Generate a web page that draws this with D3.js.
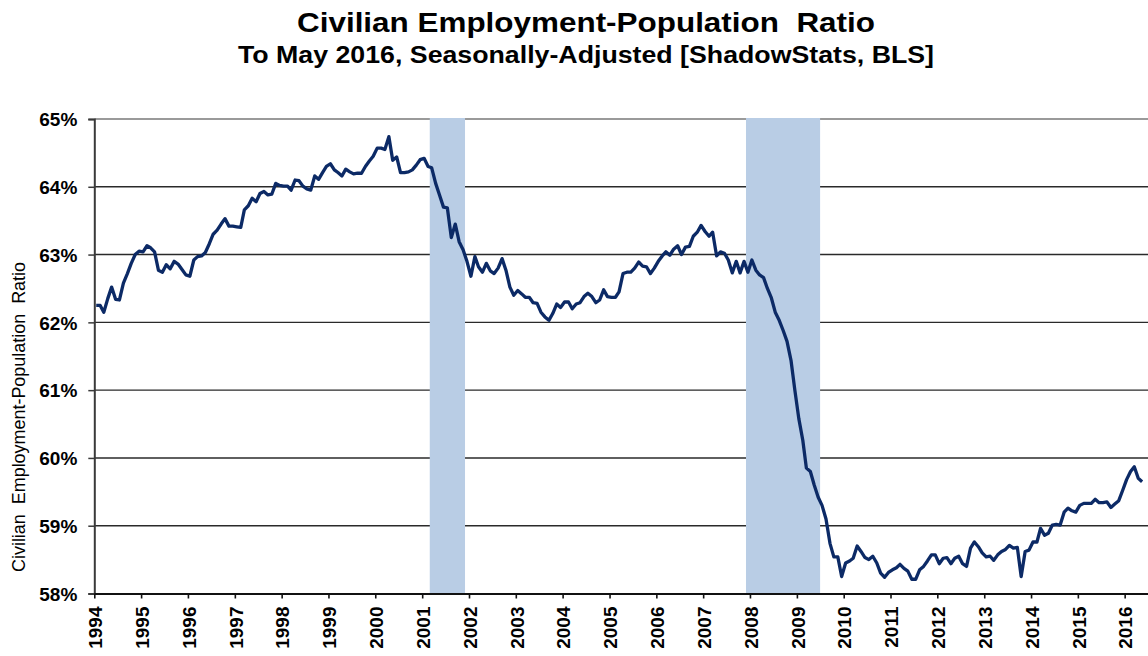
<!DOCTYPE html>
<html lang="en">
    <head>
        <meta charset="utf-8"/>
        <script src="https://d3js.org/d3.v7.min.js"></script>
        <style>
            body { margin: 0; background: #fff; }
            text { font-family: "Liberation Sans", Arial, sans-serif; fill: #000; white-space: pre; }
        </style>
    </head>
    <body>
        <div id="chart"></div>
    </body>
    <script>
        // monthly employment-population ratio (%), Jan 1994 .. May 2016
        var startYear = 1994;
        var ratio = [
            62.25, 62.25, 62.15, 62.35, 62.52, 62.34, 62.33, 62.58, 62.72, 62.87, 63.00, 63.05, // 1994
            63.04, 63.13, 63.10, 63.04, 62.77, 62.74, 62.85, 62.79, 62.90, 62.86, 62.78, 62.70, // 1995
            62.68, 62.92, 62.97, 62.98, 63.03, 63.16, 63.30, 63.36, 63.45, 63.53, 63.42, 63.42, // 1996
            63.41, 63.40, 63.66, 63.72, 63.83, 63.78, 63.90, 63.93, 63.88, 63.89, 64.05, 64.02, // 1997
            64.01, 64.01, 63.95, 64.10, 64.09, 64.01, 63.97, 63.95, 64.16, 64.11, 64.21, 64.30, // 1998
            64.34, 64.25, 64.21, 64.16, 64.26, 64.22, 64.19, 64.20, 64.20, 64.30, 64.38, 64.45, // 1999
            64.57, 64.57, 64.55, 64.74, 64.39, 64.44, 64.21, 64.21, 64.22, 64.25, 64.32, 64.40, // 2000
            64.42, 64.30, 64.28, 64.05, 63.88, 63.70, 63.69, 63.25, 63.45, 63.19, 63.07, 62.90, // 2001
            62.68, 62.97, 62.82, 62.74, 62.87, 62.76, 62.72, 62.80, 62.94, 62.77, 62.52, 62.40, // 2002
            62.47, 62.42, 62.37, 62.37, 62.29, 62.28, 62.15, 62.08, 62.03, 62.13, 62.27, 62.22, // 2003
            62.30, 62.30, 62.20, 62.27, 62.29, 62.38, 62.43, 62.38, 62.29, 62.33, 62.48, 62.38, // 2004
            62.37, 62.37, 62.45, 62.72, 62.74, 62.74, 62.80, 62.89, 62.83, 62.82, 62.72, 62.80, // 2005
            62.90, 62.98, 63.04, 62.99, 63.08, 63.13, 63.00, 63.11, 63.12, 63.27, 63.33, 63.43, // 2006
            63.34, 63.27, 63.33, 62.98, 63.04, 63.02, 62.92, 62.73, 62.90, 62.73, 62.90, 62.74, // 2007
            62.92, 62.77, 62.70, 62.66, 62.50, 62.36, 62.15, 62.03, 61.88, 61.72, 61.44, 61.00, // 2008
            60.58, 60.26, 59.85, 59.80, 59.60, 59.42, 59.30, 59.10, 58.74, 58.54, 58.54, 58.25, // 2009
            58.45, 58.48, 58.52, 58.70, 58.62, 58.53, 58.50, 58.55, 58.45, 58.30, 58.24, 58.31, // 2010
            58.35, 58.38, 58.43, 58.37, 58.33, 58.21, 58.21, 58.35, 58.40, 58.48, 58.57, 58.57, // 2011
            58.44, 58.52, 58.53, 58.44, 58.52, 58.55, 58.44, 58.40, 58.67, 58.76, 58.69, 58.60, // 2012
            58.54, 58.55, 58.49, 58.57, 58.62, 58.65, 58.71, 58.67, 58.68, 58.25, 58.62, 58.64, // 2013
            58.76, 58.76, 58.96, 58.86, 58.89, 59.01, 59.02, 59.01, 59.20, 59.26, 59.22, 59.20, // 2014
            59.30, 59.33, 59.33, 59.33, 59.39, 59.34, 59.34, 59.35, 59.27, 59.32, 59.37, 59.52, // 2015
            59.68, 59.80, 59.87, 59.70, 59.65                                                   // 2016
        ];

        // recession shading, [first month, month after last]
        var recessions = [
            [new Date(2001, 2, 1), new Date(2001, 11, 1)],
            [new Date(2007, 11, 1), new Date(2009, 6, 1)]
        ];

        var yTicks = [58, 59, 60, 61, 62, 63, 64, 65];

        var title = "Civilian Employment-Population  Ratio";
        var subtitle = "To May 2016, Seasonally-Adjusted [ShadowStats, BLS]";
        var yTitle = "Civilian  Employment-Population  Ratio";

        var margin = {top: 119, right: 0, bottom: 62.5, left: 94.3};
        var W = 1148, H = 656;
        var width = W - margin.left - margin.right;
        var height = H - margin.top - margin.bottom;

        var data = ratio.map(function (v, i) {
            return {date: new Date(startYear, i, 16), value: v};
        });

        var svg = d3.select("#chart")
            .append("svg")
                .attr("width", W)
                .attr("height", H);

        svg.append("text")
            .attr("x", 586).attr("y", 32)
            .attr("text-anchor", "middle")
            .attr("textLength", 578).attr("lengthAdjust", "spacingAndGlyphs")
            .style("font-size", "28px").style("font-weight", "bold")
            .text(title);

        svg.append("text")
            .attr("x", 586).attr("y", 63)
            .attr("text-anchor", "middle")
            .attr("textLength", 696).attr("lengthAdjust", "spacingAndGlyphs")
            .style("font-size", "23px").style("font-weight", "bold")
            .text(subtitle);

        svg.append("text")
            .attr("transform", "translate(25,417) rotate(-90)")
            .attr("text-anchor", "middle")
            .attr("textLength", 310).attr("lengthAdjust", "spacingAndGlyphs")
            .style("font-size", "19px")
            .text(yTitle);

        var g = svg.append("g")
            .attr("transform", "translate(" + margin.left + "," + margin.top + ")");

        var x = d3.scaleTime()
            .domain([new Date(startYear, 0, 1), new Date(startYear, ratio.length + 1, 1)])
            .range([0, width]);

        var y = d3.scaleLinear()
            .domain([58, 65])
            .range([height, 0]);

        // gridlines
        g.selectAll(".grid")
            .data(yTicks.slice(1))
            .enter()
            .append("line")
                .attr("x1", 0).attr("x2", width)
                .attr("y1", function (d) { return y(d); })
                .attr("y2", function (d) { return y(d); })
                .attr("stroke", function (d) { return d === 65 ? "#9a9a9a" : "#2a2a2a"; })
                .attr("stroke-width", function (d) { return d === 65 ? 2 : 1.4; });

        // recession bars
        g.selectAll(".rec")
            .data(recessions)
            .enter()
            .append("rect")
                .attr("x", function (d) { return x(d[0]); })
                .attr("width", function (d) { return x(d[1]) - x(d[0]); })
                .attr("y", y(65) - 1)
                .attr("height", y(58) - y(65) + 1)
                .attr("fill", "#b9cde5");

        var line = d3.line()
            .x(function (d) { return x(d.date); })
            .y(function (d) { return y(d.value); });

        g.append("path")
            .datum(data)
            .attr("d", line)
            .attr("fill", "none")
            .attr("stroke", "#0c2a66")
            .attr("stroke-width", 3.3)
            .attr("stroke-linejoin", "round");

        // y axis
        var yAxis = g.append("g")
            .call(d3.axisLeft(y)
                .tickValues(yTicks)
                .tickSize(6)
                .tickPadding(11)
                .tickFormat(function (d) { return d + "%"; }));
        yAxis.select(".domain").attr("stroke", "#3a3a3a").attr("stroke-width", 2);
        yAxis.selectAll(".tick line").attr("stroke", "#3a3a3a").attr("stroke-width", 1.5);
        yAxis.selectAll("text")
            .attr("dy", "0.36em")
            .style("font-size", "19px").style("font-weight", "bold");

        // x axis
        var xAxis = g.append("g")
            .attr("transform", "translate(0," + height + ")")
            .call(d3.axisBottom(x)
                .ticks(d3.timeYear.every(1))
                .tickSize(5)
                .tickSizeOuter(0)
                .tickFormat(d3.timeFormat("%Y")));
        xAxis.select(".domain").attr("stroke", "#111").attr("stroke-width", 2.2);
        xAxis.selectAll(".tick line").attr("stroke", "#111").attr("stroke-width", 1.6);
        xAxis.selectAll("text")
            .attr("transform", "rotate(-90)")
            .attr("x", -13)
            .attr("y", 0)
            .attr("dy", "0.38em")
            .style("text-anchor", "end")
            .style("font-size", "19px").style("font-weight", "bold");
    </script>
</html>
